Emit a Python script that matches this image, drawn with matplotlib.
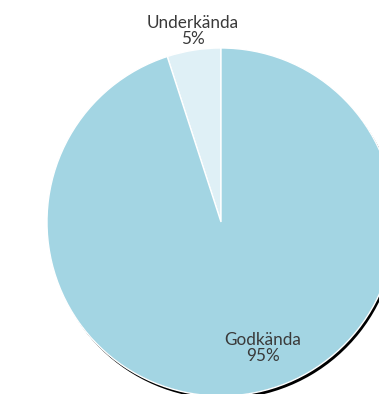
import numpy as np
import matplotlib.pyplot as plt
import matplotlib.transforms as mtransforms
from matplotlib.patches import Wedge

# pass / fail split
labels = ["Underkända", "Godkända"]
shares = [5, 95]
colors = ["#dff0f6", "#a3d5e3"]

W, H = 379, 394
cx, cy, r = 221, 222, 174  # pie centre and radius in pixels


def draw_figure():
    fig = plt.figure(figsize=(W / 100, H / 100), dpi=100)
    ax = fig.add_axes([0, 0, 1, 1])

    wedges, _ = ax.pie(
        shares, colors=colors, startangle=90, counterclock=True,
        wedgeprops=dict(edgecolor="white", linewidth=1.0),
    )

    # hard black drop shadow, shifted down and to the right
    off = mtransforms.offset_copy(ax.transData, fig=fig, x=2, y=-3, units="dots")
    for w in wedges:
        ax.add_patch(Wedge(w.center, w.r, w.theta1, w.theta2,
                           facecolor="black", edgecolor="none",
                           transform=off, zorder=0.5))

    # map pixel frame onto pie units (radius = 1)
    ax.set_xlim(-cx / r, (W - cx) / r)
    ax.set_ylim(-(H - cy) / r, cy / r)
    ax.set_aspect("auto")
    ax.axis("off")

    label_pos = [(-0.161, 1.098), (0.241, -0.724)]
    for lab, val, (x, y) in zip(labels, shares, label_pos):
        ax.text(x, y, f"{lab}\n{val}%", ha="center", va="center",
                fontsize=12.3, color="#3a3a3a", family="Lato",
                linespacing=1.05)

    fig.savefig("out.png", dpi=100)


if __name__ == "__main__":
    draw_figure()
